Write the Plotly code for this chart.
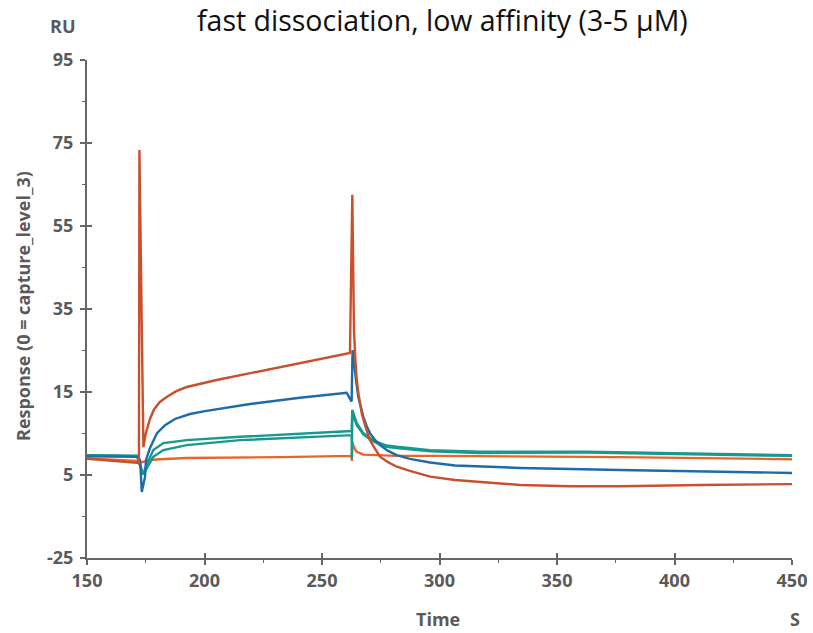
import plotly.graph_objects as go

# ---- data (time in s, response in RU on the axis' linear scale) ----
t_red = [150, 171.3, 172.1, 172.3, 174.0, 175.0, 176.8, 178.5, 181.0, 183.9, 188.0, 192.4, 198.0,
         205.2, 220.0, 232.1, 247.0, 261.9, 262.9, 263.4, 263.6, 264.2, 264.8, 265.6, 266.9,
         268.3, 270.4, 272.6, 274.7, 278.1, 281.8, 287.4, 296.0, 306.6, 317.2, 334.3, 355.5,
         376.8, 410.9, 450]
v_red = [-1.1, -2.1, -2.1, 73.3, 1.7, 5.0, 8.5, 10.8, 12.6, 13.8, 15.2, 16.2, 17.0,
         17.9, 19.6, 21.0, 22.7, 24.4, 62.5, 37.2, 30.0, 22.7, 17.9, 14.3, 9.9,
         7.0, 3.4, 1.3, -0.6, -1.9, -3.0, -4.0, -5.4, -6.2, -6.6, -7.4, -7.7,
         -7.7, -7.4, -7.2]

t_blue = [150, 171.3, 172.6, 173.3, 174.7, 175.1, 176.8, 179.8, 183.2, 187.4, 193.8, 200.2, 219.4,
          240.6, 260.5, 262.6, 263.0, 264.0, 264.8, 265.4, 266.4, 267.6, 269.0, 270.4, 272.6,
          274.7, 278.1, 281.8, 287.4, 296.0, 306.6, 317.2, 334.3, 376.8, 450]
v_blue = [-0.5, -0.6, -1.4, -9.1, -5.4, -1.4, 1.5, 5.1, 7.0, 8.5, 9.7, 10.4, 12.1,
          13.6, 14.8, 12.7, 25.1, 19.6, 16.4, 13.9, 11.4, 9.0, 6.8, 5.1, 3.4,
          2.2, 0.8, -0.2, -1.1, -2.0, -2.7, -3.0, -3.3, -3.8, -4.5]

t_teal1 = [150, 171.3, 172.6, 173.7, 175.4, 178.2, 182.5, 192.4, 215.1, 240.0, 259.8, 262.6,
           262.9, 264.8, 266.2, 267.6, 270.4, 273.3, 277.5, 281.8, 296.0, 317.2, 362.6, 405.2, 450]
v_teal1 = [-0.2, -0.4, -2.6, -4.9, -2.6, 1.0, 2.7, 3.4, 4.2, 5.0, 5.6, 5.6,
           10.7, 7.5, 6.3, 5.1, 3.9, 3.0, 2.1, 1.8, 1.0, 0.6, 0.6, 0.2, -0.2]

t_teal2 = [150, 171.3, 172.6, 173.7, 174.7, 178.2, 182.5, 192.4, 215.1, 240.0, 259.8, 262.6,
           262.7, 262.9, 264.8, 266.2, 267.6, 270.4, 273.3, 277.5, 281.8, 296.0, 317.2, 362.6,
           405.2, 450]
v_teal2 = [-0.2, -0.4, -2.5, -4.5, -4.2, -0.6, 1.0, 2.2, 3.4, 4.0, 4.6, 4.6,
           -1.0, 9.8, 7.0, 5.9, 4.8, 3.6, 2.7, 1.8, 1.5, 0.7, 0.3, 0.4,
           0.0, -0.4]

t_orange = [150, 171.3, 172.1, 172.8, 174.0, 176.8, 181.1, 192.4, 232.1, 259.8, 262.6,
            262.7, 262.9, 263.3, 264.0, 264.8, 267.6, 281.8, 300.2, 376.8, 450]
v_orange = [-1.0, -1.6, -2.3, -2.0, -1.8, -1.4, -1.2, -0.9, -0.7, -0.4, -0.4,
            -1.6, 3.0, 2.2, 1.2, 0.6, -0.1, -0.4, -0.4, -0.7, -1.2]

y_tickvals = [-25, -5, 15, 35, 55, 75, 95]
y_ticktext = ["-25", "5", "15", "35", "55", "75", "95"]
x_tickvals = [150, 200, 250, 300, 350, 400, 450]

series = [
    (t_orange, v_orange, "#E9642B"),
    (t_teal2, v_teal2, "#17998E"),
    (t_teal1, v_teal1, "#17998E"),
    (t_blue, v_blue, "#1D6CA7"),
    (t_red, v_red, "#C9502D"),
]

fig = go.Figure()
for t, v, c in series:
    fig.add_trace(go.Scatter(x=t, y=v, mode="lines", line=dict(color=c, width=2.4),
                             showlegend=False, hoverinfo="skip"))
# empty helper trace so the overlay axes (inner half of the crossing ticks) are drawn
fig.add_trace(go.Scatter(x=[None], y=[None], xaxis="x2", yaxis="y2", mode="lines",
                         showlegend=False, hoverinfo="skip"))

GRAY = "#666666"
axis_font = dict(family="Open Sans", size=18, color="#5a5a5a", weight="bold")
fig.update_layout(
    width=813, height=633,
    margin=dict(l=87, r=21, t=60, b=75, autoexpand=False),
    plot_bgcolor="white", paper_bgcolor="white",
    showlegend=False,
    xaxis=dict(range=[150, 450], tickvals=x_tickvals, ticks="outside", ticklen=5, tickwidth=2,
               tickcolor=GRAY, showline=True, linecolor=GRAY, linewidth=2, automargin=False,
               showgrid=False, zeroline=False, tickfont=axis_font,
               minor=dict(dtick=25, tick0=150, ticks="outside", ticklen=3, tickcolor=GRAY, tickwidth=1)),
    yaxis=dict(range=[-25, 95], tickvals=y_tickvals, ticktext=y_ticktext, ticks="outside",
               ticklen=5, tickwidth=2, tickcolor=GRAY, showline=True, linecolor=GRAY,
               linewidth=2, showgrid=False, zeroline=False, tickfont=axis_font, ticklabelstandoff=3,
               automargin=False,
               minor=dict(dtick=10, tick0=-25, ticks="outside", ticklen=3, tickcolor=GRAY, tickwidth=1)),
    xaxis2=dict(range=[150, 450], tickvals=x_tickvals, ticks="inside", ticklen=5, tickwidth=2,
                tickcolor=GRAY, showticklabels=False, showline=False, showgrid=False,
                zeroline=False, overlaying="x", anchor="y", side="bottom", automargin=False),
    yaxis2=dict(range=[-25, 95], tickvals=y_tickvals, ticks="inside", ticklen=5, tickwidth=2,
                tickcolor=GRAY, showticklabels=False, showline=False, showgrid=False,
                zeroline=False, overlaying="y", anchor="x", side="left", automargin=False),
)

ann_font = dict(family="Open Sans", size=18, color="#5a5a5a", weight="bold")
def px_x(px):
    return (px - 87) / 705
def px_y(py):
    return 1 - (py - 60) / 498

fig.add_annotation(text="fast dissociation, low affinity (3-5 µM)", xref="paper", yref="paper",
                   x=px_x(443), y=px_y(20), xanchor="center", yanchor="middle", showarrow=False,
                   font=dict(family="Open Sans", size=28.5, color="#111111"))
fig.add_annotation(text="RU", xref="paper", yref="paper", x=px_x(63), y=px_y(26),
                   xanchor="center", yanchor="middle", showarrow=False, font=ann_font)
fig.add_annotation(text="Response (0 = capture_level_3)", xref="paper", yref="paper",
                   x=px_x(23), y=px_y(306), xanchor="center", yanchor="middle", textangle=-90,
                   showarrow=False, font=ann_font)
fig.add_annotation(text="Time", xref="paper", yref="paper", x=px_x(438), y=px_y(619),
                   xanchor="center", yanchor="middle", showarrow=False, font=ann_font)
fig.add_annotation(text="S", xref="paper", yref="paper", x=px_x(795), y=px_y(619),
                   xanchor="center", yanchor="middle", showarrow=False, font=ann_font)

fig.write_html("out.html")
